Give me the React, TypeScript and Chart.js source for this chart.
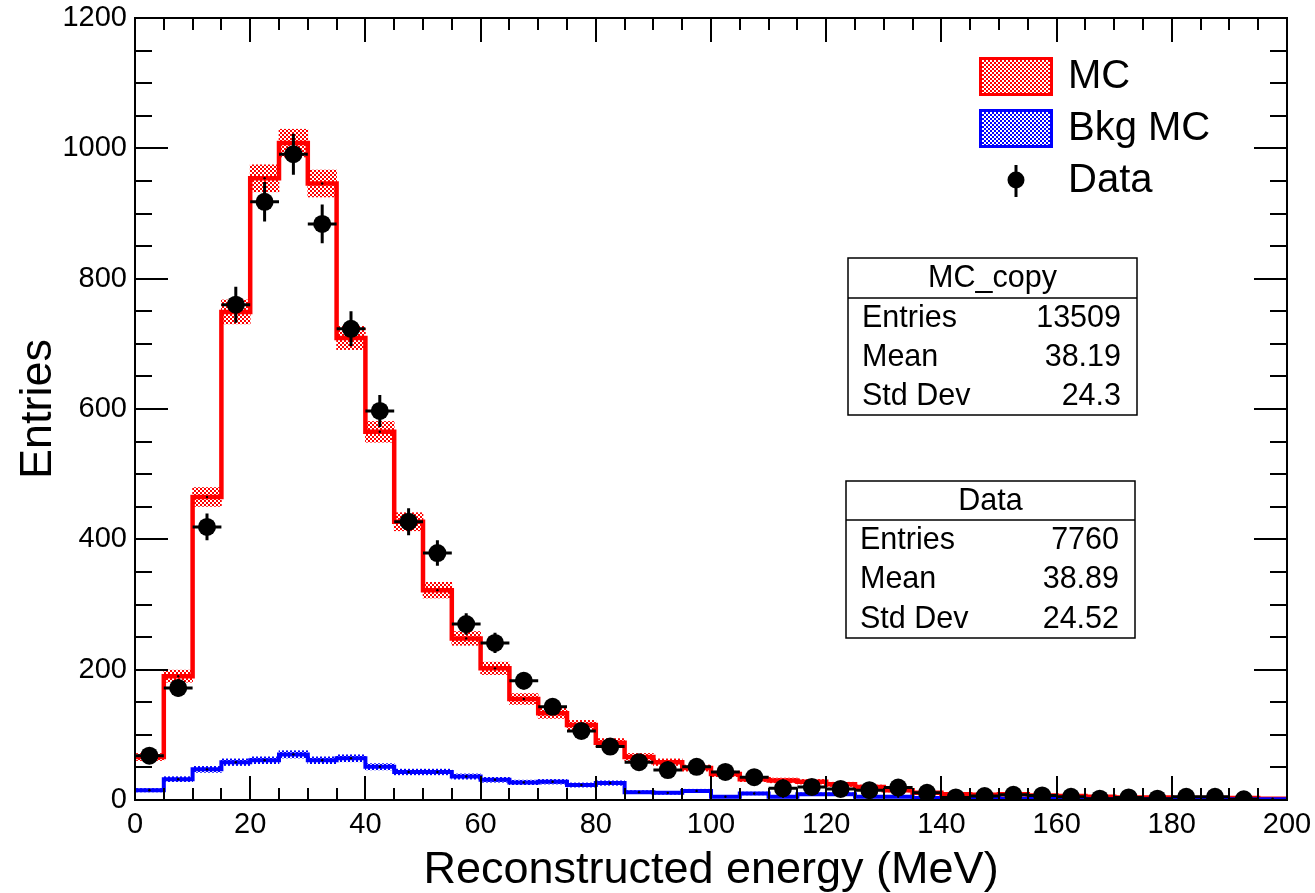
import React, { useEffect, useRef } from "react";
import { Chart, registerables } from "chart.js";

Chart.register(...registerables);

// ---- data (40 bins of 5 MeV, 0..200 MeV) ----
const binCenters = [
  2.5, 7.5, 12.5, 17.5, 22.5, 27.5, 32.5, 37.5, 42.5, 47.5,
  52.5, 57.5, 62.5, 67.5, 72.5, 77.5, 82.5, 87.5, 92.5, 97.5,
  102.5, 107.5, 112.5, 117.5, 122.5, 127.5, 132.5, 137.5, 142.5, 147.5,
  152.5, 157.5, 162.5, 167.5, 172.5, 177.5, 182.5, 187.5, 192.5, 197.5,
];
const binWidth = 5;

const mcValues = [
  66, 190, 465, 749, 954, 1008, 946, 709, 565, 427,
  322, 248, 202, 155, 133, 115, 88, 66, 58, 49,
  40, 32, 30, 28, 24, 20, 15, 11, 9, 8,
  9, 7, 6, 5, 4, 4, 3, 3, 3, 2,
];
const bkgValues = [
  15, 32, 47, 58, 61, 70, 61, 64, 51, 43,
  43, 36, 31, 27, 28, 23, 26, 12, 11, 14,
  5, 10, 5, 9, 9, 5, 5, 3, 3, 3,
  2, 2, 2, 1, 1, 1, 1, 1, 1, 1,
];
const dataValues = [
  68, 172, 419, 760, 918, 991, 884, 723, 597, 427,
  379, 270, 241, 183, 143, 106, 82, 58, 46, 51,
  43, 35, 18, 20, 17, 15, 19, 11, 4, 6,
  8, 7, 5, 2, 4, 2, 5, 5, 1, 0,
];
// MC band half-width factor (scaled Poisson error)
const mcErrScale = 0.45;

const xTickValues = [0, 20, 40, 60, 80, 100, 120, 140, 160, 180, 200];
const yTickValues = [0, 200, 400, 600, 800, 1000, 1200];
const xMinorStep = 5;
const yMinorStep = 50;

const legendLabels = ["MC", "Bkg MC", "Data"];
const statBoxes = [
  { title: "MC_copy", rows: [["Entries", "13509"], ["Mean", "38.19"], ["Std Dev", "24.3"]] },
  { title: "Data", rows: [["Entries", "7760"], ["Mean", "38.89"], ["Std Dev", "24.52"]] },
];

const FONT = "'Liberation Sans', Arial, Helvetica, sans-serif";

function makePattern(ctx: CanvasRenderingContext2D, color: string) {
  const c = document.createElement("canvas");
  c.width = 4;
  c.height = 4;
  const g = c.getContext("2d")!;
  g.fillStyle = color;
  g.fillRect(0, 0, 2, 2);
  g.fillRect(2, 2, 2, 2);
  return ctx.createPattern(c, "repeat")!;
}

function stepPoints(values: number[]) {
  const pts = values.map((v, i) => ({ x: binCenters[i] - binWidth / 2, y: v }));
  pts.push({ x: binCenters[binCenters.length - 1] + binWidth / 2, y: values[values.length - 1] });
  return pts;
}

function bandBars(values: number[]) {
  return values.map((v, i) => {
    const e = Math.sqrt(v * mcErrScale);
    return { x: binCenters[i], y: [Math.max(0, v - e), v + e] };
  });
}

export default function App() {
  const ref = useRef<HTMLCanvasElement | null>(null);

  useEffect(() => {
    const canvas = ref.current!;
    const ctx = canvas.getContext("2d")!;
    const redPat = makePattern(ctx, "#ff0000");
    const bluePat = makePattern(ctx, "#0000ff");

    const decor = {
      id: "rootDecor",
      afterDatasetsDraw(chart: any) {
        const c = chart.ctx;
        const xs = chart.scales.x;
        const ys = chart.scales.y;
        c.save();
        c.strokeStyle = "#000";
        c.lineWidth = 3;
        c.lineCap = "butt";
        dataValues.forEach((v, i) => {
          if (v <= 0) return;
          const e = Math.sqrt(v);
          const px = xs.getPixelForValue(binCenters[i]);
          const py = ys.getPixelForValue(v);
          c.beginPath();
          c.moveTo(px, ys.getPixelForValue(v - e));
          c.lineTo(px, ys.getPixelForValue(v + e));
          c.moveTo(xs.getPixelForValue(binCenters[i] - binWidth / 2), py);
          c.lineTo(xs.getPixelForValue(binCenters[i] + binWidth / 2), py);
          c.stroke();
        });
        c.restore();
      },
      afterDraw(chart: any) {
        const c = chart.ctx;
        const a = chart.chartArea;
        const xs = chart.scales.x;
        const ys = chart.scales.y;
        c.save();
        // frame
        c.strokeStyle = "#000";
        c.lineWidth = 2;
        c.strokeRect(a.left, a.top, a.right - a.left, a.bottom - a.top);
        // ticks
        c.lineWidth = 2;
        c.beginPath();
        for (let v = xs.min; v <= xs.max + 1e-9; v += xMinorStep) {
          const major = xTickValues.includes(v);
          const len = major ? 24 : 12;
          const px = Math.round(xs.getPixelForValue(v));
          c.moveTo(px, a.bottom);
          c.lineTo(px, a.bottom - len);
          c.moveTo(px, a.top);
          c.lineTo(px, a.top + len);
        }
        for (let v = ys.min; v <= ys.max + 1e-9; v += yMinorStep) {
          const major = yTickValues.includes(v);
          const len = major ? 33 : 17;
          const py = Math.round(ys.getPixelForValue(v));
          c.moveTo(a.left, py);
          c.lineTo(a.left + len, py);
          c.moveTo(a.right, py);
          c.lineTo(a.right - len, py);
        }
        c.stroke();

        // legend
        const lx = 979, lw = 74, lh = 39;
        const boxes = [
          { y: 57, pat: redPat, col: "#ff0000" },
          { y: 109, pat: bluePat, col: "#0000ff" },
        ];
        boxes.forEach((b) => {
          c.fillStyle = "#fff";
          c.fillRect(lx, b.y, lw, lh);
          c.fillStyle = b.pat;
          c.fillRect(lx, b.y, lw, lh);
          c.strokeStyle = b.col;
          c.lineWidth = 3;
          c.strokeRect(lx + 1.5, b.y + 1.5, lw - 3, lh - 3);
        });
        // data marker
        c.fillStyle = "#000";
        c.strokeStyle = "#000";
        c.lineWidth = 3;
        c.beginPath();
        c.moveTo(1016, 165);
        c.lineTo(1016, 197);
        c.stroke();
        c.beginPath();
        c.arc(1016, 180, 8.5, 0, Math.PI * 2);
        c.fill();
        c.font = `40px ${FONT}`;
        c.textAlign = "left";
        c.textBaseline = "middle";
        c.fillText(legendLabels[0], 1068, 77);
        c.fillText(legendLabels[1], 1068, 129);
        c.fillText(legendLabels[2], 1068, 181);

        // stat boxes
        const sb = [
          { x: 848, y: 258, w: 289, h: 157, sep: 298 },
          { x: 846, y: 481, w: 289, h: 157, sep: 520 },
        ];
        sb.forEach((b, k) => {
          const s = statBoxes[k];
          c.fillStyle = "#fff";
          c.fillRect(b.x, b.y, b.w, b.h);
          c.strokeStyle = "#000";
          c.lineWidth = 1.5;
          c.strokeRect(b.x, b.y, b.w, b.h);
          c.beginPath();
          c.moveTo(b.x, b.sep);
          c.lineTo(b.x + b.w, b.sep);
          c.stroke();
          c.fillStyle = "#000";
          c.font = `30.5px ${FONT}`;
          c.textBaseline = "middle";
          c.textAlign = "center";
          c.fillText(s.title, b.x + b.w / 2, (b.y + b.sep) / 2 + 1);
          const rh = (b.y + b.h - b.sep) / 3;
          s.rows.forEach((r, j) => {
            const cy = b.sep + rh * (j + 0.5) + 1;
            c.textAlign = "left";
            c.fillText(r[0], b.x + 14, cy);
            c.textAlign = "right";
            c.fillText(r[1], b.x + b.w - 16, cy);
          });
        });
        c.restore();
      },
    };

    const chart = new Chart(canvas, {
      type: "line",
      data: {
        datasets: [
          {
            type: "bar",
            label: "MC band",
            data: bandBars(mcValues) as any,
            backgroundColor: redPat as any,
            borderWidth: 0,
            barPercentage: 1,
            categoryPercentage: 1,
            grouped: false,
            order: 6,
          } as any,
          {
            type: "bar",
            label: "Bkg band",
            data: bandBars(bkgValues) as any,
            backgroundColor: bluePat as any,
            borderWidth: 0,
            barPercentage: 1,
            categoryPercentage: 1,
            grouped: false,
            order: 5,
          } as any,
          {
            type: "line",
            label: "MC",
            data: stepPoints(mcValues),
            stepped: "before",
            borderColor: "#ff0000",
            borderWidth: 4.5,
            borderJoinStyle: "miter",
            pointRadius: 0,
            fill: false,
            order: 4,
          } as any,
          {
            type: "line",
            label: "Bkg MC",
            data: stepPoints(bkgValues),
            stepped: "before",
            borderColor: "#0000ff",
            borderWidth: 4,
            borderJoinStyle: "miter",
            pointRadius: 0,
            fill: false,
            order: 3,
          } as any,
          {
            type: "line",
            label: "hist markers",
            data: [
              ...mcValues.map((v, i) => ({ x: binCenters[i], y: v })),
              ...bkgValues.map((v, i) => ({ x: binCenters[i], y: v })),
            ],
            showLine: false,
            pointRadius: 1.2,
            pointBorderWidth: 0,
            pointBackgroundColor: "#000",
            order: 2,
          } as any,
          {
            type: "line",
            label: "Data",
            data: dataValues
              .map((v, i) => ({ x: binCenters[i], y: v }))
              .filter((p) => p.y > 0),
            showLine: false,
            pointRadius: 9,
            pointBorderWidth: 0,
            pointBackgroundColor: "#000",
            order: 0,
          } as any,
        ],
      },
      options: {
        animation: false,
        responsive: false,
        devicePixelRatio: 1,
        events: [],
        layout: { padding: { left: 0, top: 18, right: 28, bottom: 0 } },
        plugins: { legend: { display: false }, tooltip: { enabled: false } },
        scales: {
          x: {
            type: "linear",
            min: 0,
            max: 200,
            offset: false,
            afterBuildTicks: (s: any) => {
              s.ticks = xTickValues.map((v) => ({ value: v }));
            },
            afterFit: (s: any) => {
              s.height = 93;
              s.paddingLeft = 0;
              s.paddingRight = 0;
            },
            grid: { display: false, drawTicks: false },
            border: { display: false },
            ticks: {
              padding: 8,
              color: "#000",
              font: { family: FONT, size: 29 },
              maxRotation: 0,
              autoSkip: false,
              callback: (v: any) => String(v),
            },
            title: {
              display: true,
              text: "Reconstructed energy (MeV)",
              color: "#000",
              font: { family: FONT, size: 45, lineHeight: 1.0 },
              padding: { top: 0, bottom: 0 },
            },
          },
          y: {
            type: "linear",
            min: 0,
            max: 1200,
            afterBuildTicks: (s: any) => {
              s.ticks = yTickValues.map((v) => ({ value: v }));
            },
            afterFit: (s: any) => {
              s.width = 135;
              s.paddingTop = 0;
              s.paddingBottom = 0;
            },
            grid: { display: false, drawTicks: false },
            border: { display: false },
            ticks: {
              padding: 8,
              color: "#000",
              font: { family: FONT, size: 29 },
              autoSkip: false,
              callback: (v: any) => String(v),
            },
            title: {
              display: true,
              text: "Entries",
              color: "#000",
              font: { family: FONT, size: 45, lineHeight: 1.0 },
              padding: { top: 16, bottom: 0 },
            },
          },
        },
      } as any,
      plugins: [decor],
    });

    return () => chart.destroy();
  }, []);

  return (
    <div style={{ position: "fixed", left: 0, top: 0, width: 1315, height: 893, background: "#fff" }}>
      <canvas ref={ref} width={1315} height={893} style={{ display: "block" }} />
    </div>
  );
}
